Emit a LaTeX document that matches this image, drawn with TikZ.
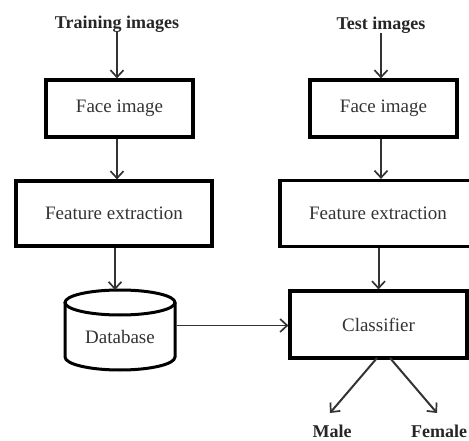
\documentclass[tikz,border=0pt]{standalone}
\usepackage{fontspec}
\setmainfont{Liberation Serif}
\usetikzlibrary{arrows.meta}
\begin{document}
\begin{tikzpicture}[x=1pt,y=1pt,
  box/.style={draw=black, line width=3.2pt, minimum width=#1, font=\fontsize{19}{22}\selectfont, text=black!80, inner sep=0pt},
  lbl/.style={font=\fontsize{18}{20}\selectfont\bfseries, text=black!85, inner sep=0pt},
  arr/.style={draw=black!80, line width=2pt, -{Straight Barb[length=7pt,width=13pt,line width=1.7pt]}},
  ]
\useasboundingbox (0,0) rectangle (469,440);
% left column
\node[lbl] (train) at (117,416) {Training images};
\node[box=147pt, minimum height=57pt] (lface) at (119.5,331.5) {Face image};
\node[box=196pt, minimum height=65pt] (lfeat) at (114,226.5) {Feature extraction};
% database cylinder
\node[font=\fontsize{19}{22}\selectfont, text=black!80, inner sep=0pt] (db) at (120,103) {Database};
\draw[line width=3pt] (120,137.5) ellipse [x radius=55, y radius=12.5];
\draw[line width=3pt] (65,137.5) -- (65,83) arc[start angle=180, end angle=360, x radius=55, y radius=13] -- (175,137.5);
\coordinate (dbtop) at (115,150);
\coordinate (dbright) at (176.5,114.5);
% right column
\node[lbl] (test) at (381,415) {Test images};
\node[box=147pt, minimum height=57pt] (rface) at (383.5,331.5) {Face image};
\node[box=196pt, minimum height=66pt] (rfeat) at (378,226.5) {Feature extraction};
\node[box=177pt, minimum height=67pt] (cls) at (378.5,115.5) {Classifier};
\node[lbl] (male) at (332,9) {Male};
\node[lbl] (female) at (439,9) {Female};
\coordinate (clsl) at (377,82);
\coordinate (clsr) at (390,82);
\coordinate (maleend) at (330,27);
\coordinate (femaleend) at (437,27);
% arrows
\draw[arr] (train.south) -- (train.south |- lface.north);
\draw[arr] (lface.south -| train.south) -- (lfeat.north -| train.south);
\draw[arr] (lfeat.south -| dbtop) -- (dbtop);
\draw[arr] (test.south) -- (test.south |- rface.north);
\draw[arr] (rface.south -| test.south) -- (rfeat.north -| test.south);
\draw[arr] (rfeat.south -| cls.north) -- (cls.north);
\draw[arr, line width=1.5pt] (dbright) -- (dbright -| cls.west);
\draw[arr] (clsl) -- (maleend);
\draw[arr] (clsr) -- (femaleend);
\end{tikzpicture}
\end{document}
